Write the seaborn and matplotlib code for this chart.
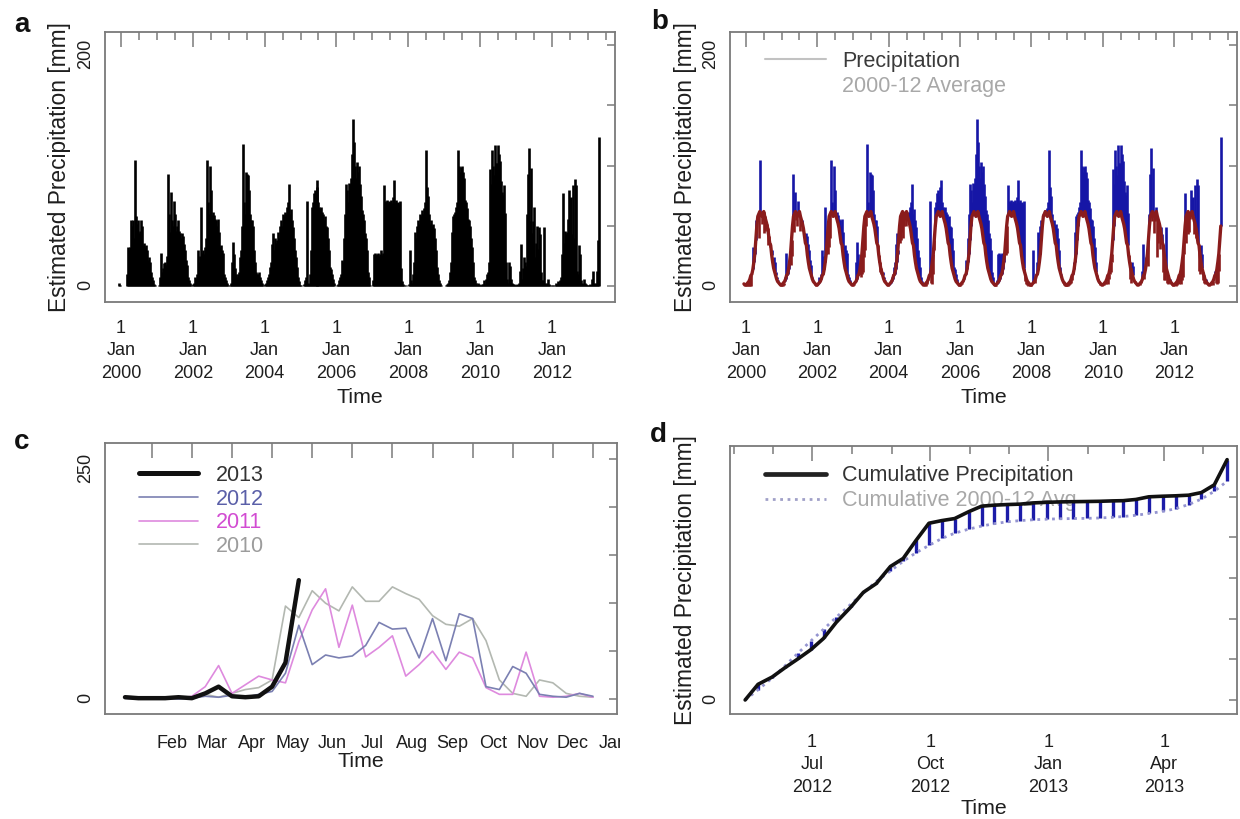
import numpy as np
import pandas as pd
import matplotlib.pyplot as plt
import seaborn as sns
from matplotlib.lines import Line2D
from matplotlib.transforms import Bbox, TransformedBbox

# dekadal precipitation estimates (mm), 36 dekads per year, read off panels a and c
p2000 = [3, 1, 0, 0, 0, 0, 0, 0, 10, 33, 30, 33, 55, 50, 55, 40, 105, 58, 52, 55, 44, 46, 55, 50, 34, 36, 33, 34, 30, 22, 24, 20, 12, 8, 5, 2]
p2001 = [1, 0, 0, 0, 1, 8, 28, 12, 15, 19, 20, 18, 25, 93, 60, 45, 78, 55, 50, 71, 60, 46, 50, 55, 46, 44, 40, 44, 42, 35, 30, 22, 18, 8, 5, 3]
p2002 = [1, 0, 2, 3, 8, 6, 10, 30, 20, 25, 66, 28, 30, 27, 33, 40, 105, 70, 60, 100, 80, 59, 62, 59, 56, 55, 50, 56, 45, 33, 34, 30, 28, 10, 8, 5]
p2003 = [3, 1, 0, 1, 3, 20, 37, 27, 15, 10, 8, 10, 12, 24, 30, 50, 118, 70, 60, 95, 93, 92, 80, 60, 55, 55, 50, 30, 20, 12, 10, 10, 12, 8, 5, 3]
p2004 = [1, 0, 2, 3, 5, 8, 10, 16, 20, 35, 44, 30, 40, 36, 38, 45, 40, 50, 55, 50, 60, 58, 62, 60, 66, 70, 85, 60, 64, 55, 49, 40, 30, 24, 16, 8]
p2005 = [4, 1, 1, 0, 0, 2, 5, 8, 71, 3, 2, 10, 30, 66, 70, 77, 80, 75, 82, 88, 70, 66, 64, 66, 62, 60, 55, 58, 50, 49, 40, 30, 16, 14, 10, 6]
p2006 = [3, 0, 0, 1, 2, 5, 8, 10, 22, 20, 40, 60, 85, 80, 70, 86, 85, 90, 110, 139, 120, 100, 90, 103, 95, 100, 85, 75, 63, 60, 55, 44, 40, 30, 12, 8]
p2007 = [1, 0, 0, 5, 27, 28, 26, 27, 28, 25, 27, 30, 26, 28, 84, 71, 70, 72, 69, 71, 70, 72, 69, 74, 88, 70, 72, 69, 70, 68, 71, 15, 4, 2, 1, 0]
p2008 = [1, 0, 0, 2, 30, 5, 3, 10, 20, 45, 40, 50, 55, 52, 60, 58, 63, 60, 65, 70, 113, 82, 75, 60, 52, 55, 50, 52, 48, 40, 30, 16, 10, 5, 3, 1]
p2009 = [0, 0, 0, 0, 1, 2, 3, 5, 12, 20, 45, 58, 60, 62, 66, 70, 113, 100, 95, 99, 100, 95, 90, 72, 70, 65, 56, 55, 50, 40, 33, 20, 8, 5, 3, 1]
p2010 = [3, 2, 1, 1, 2, 2, 5, 2, 6, 10, 12, 20, 97, 85, 113, 100, 92, 117, 102, 102, 117, 110, 104, 87, 78, 76, 84, 61, 20, 6, 3, 20, 17, 6, 3, 2]
p2011 = [2, 1, 1, 2, 1, 3, 13, 35, 6, 15, 24, 20, 17, 60, 93, 115, 54, 98, 44, 54, 66, 24, 36, 50, 31, 49, 43, 12, 5, 5, 49, 3, 2, 3, 6, 2]
p2012 = [1, 0, 1, 1, 0, 1, 3, 2, 4, 2, 5, 8, 27, 77, 36, 46, 43, 45, 56, 80, 73, 74, 43, 84, 40, 89, 84, 13, 10, 34, 27, 5, 3, 2, 6, 3]
p2013 = [2, 1, 1, 1, 2, 1, 6, 13, 3, 2, 3, 13, 38, 124]

# 2000-12 dekadal average (mm)
avg_2000_12 = [2, 1, 1, 2, 3, 4, 6, 9, 10, 14, 20, 27, 38, 50, 58, 60, 62, 60, 58, 60, 62, 58, 55, 52, 48, 42, 36, 34, 26, 20, 15, 12, 9, 6, 4, 3]

years = list(range(2000, 2014))
series = [p2000, p2001, p2002, p2003, p2004, p2005, p2006, p2007, p2008, p2009, p2010, p2011, p2012, p2013]
month_labels = ['Feb', 'Mar', 'Apr', 'May', 'Jun', 'Jul', 'Aug', 'Sep', 'Oct', 'Nov', 'Dec', 'Jan']
season_colors = {2013: '#111111', 2012: '#7b80b2', 2011: '#de8ade', 2010: '#b3b8b1'}
season_text = {2013: '#333333', 2012: '#5a5fa8', 2011: '#d24cd2', 2010: '#9c9c9c'}

# long table of the whole record
rows = []
for y, vals in zip(years, series):
    for d, v in enumerate(vals):
        rows.append((y, d, v))
df = pd.DataFrame(rows, columns=['year', 'dekad', 'mm'])
df['t'] = df['year'] + (df['dekad'] - 2) / 36
df['avg'] = np.array(avg_2000_12)[df['dekad']]

sns.set_theme(style='white')
plt.rcParams['font.family'] = ['Liberation Sans', 'DejaVu Sans']

fig = plt.figure(figsize=(12.4, 8.19), dpi=100)
ax_a = fig.add_axes([0.0847, 0.6313, 0.4113, 0.3297])
ax_b = fig.add_axes([0.5887, 0.6313, 0.4089, 0.3297])
ax_c = fig.add_axes([0.0847, 0.1282, 0.4129, 0.3309])
ax_d = fig.add_axes([0.5887, 0.1282, 0.4089, 0.3272])

EDGE = '#7a7a7a'
INK = '#1e1e1e'


def style_axes(ax, xpad):
    for sp in ax.spines.values():
        sp.set_color(EDGE)
        sp.set_linewidth(1.3)
    ax.tick_params(which='both', direction='in', top=True, right=True, color=EDGE,
                   width=1.1, labelcolor=INK, labelsize=13)
    ax.tick_params(axis='y', length=6, pad=8, labelrotation=90)
    ax.tick_params(axis='x', which='major', length=11, pad=xpad)
    ax.tick_params(axis='x', which='minor', length=6)
    ax.grid(False)


def year_axis(ax):
    ax.set_xlim(1999.554, 2013.76)
    ax.set_ylim(-13, 211)
    majors = list(range(2000, 2013, 2))
    ax.set_xticks(majors, labels=[f'1\nJan\n{y}' for y in majors])
    minors = [m / 2 for m in range(4001, 4028) if m % 4 != 0]
    ax.set_xticks(minors, minor=True)
    plt.setp(ax.get_xticklabels(), linespacing=1.42)
    ax.set_yticks([0, 50, 100, 150, 200], labels=['0', '', '', '', '200'])
    style_axes(ax, 13)
    ax.set_xlabel('Time', fontsize=15.4, color=INK)
    ax.xaxis.set_label_coords(0.5, -0.318)
    ax.set_ylabel('Estimated Precipitation [mm]', fontsize=16.4, color=INK)
    ax.yaxis.set_label_coords(-0.066, 0.5)


# a: precipitation as vertical bars
ax_a.vlines(df['t'], 0, df['mm'], color='black', lw=1.9)
year_axis(ax_a)

# b: anomaly against the 2000-12 average
above = df['mm'] >= df['avg']
ax_b.vlines(df['t'][above], df['avg'][above], df['mm'][above], color='#1616a6', lw=1.9)
ax_b.vlines(df['t'][~above], df['mm'][~above], df['avg'][~above], color='#8a1c1c', lw=1.9)
sns.lineplot(x=df['t'], y=df['avg'], color='#8a1c1c', lw=2.4, ax=ax_b)
year_axis(ax_b)
leg_b = ax_b.legend([Line2D([], [], color='#c2c2c2', lw=1.5), Line2D([], [], color='none')],
                    ['Precipitation', '2000-12 Average'], loc='upper left',
                    bbox_to_anchor=(0.069, 0.93), frameon=False, fontsize=15.5,
                    handlelength=2.85, handletextpad=0.75, labelspacing=0.2,
                    borderpad=0, borderaxespad=0)
for txt, col in zip(leg_b.get_texts(), ['#3a3a3a', '#a8a8a8']):
    txt.set_color(col)

# c: seasonal curves by year
for y in [2010, 2011, 2012, 2013]:
    vals = series[years.index(y)]
    pos = [(d + 1) / 3 for d in range(len(vals))]
    sns.lineplot(x=pos, y=vals, color=season_colors[y], lw=3.2 if y == 2013 else 1.2, ax=ax_c)
ax_c.set_xlim(-0.165, 12.6)
ax_c.set_ylim(-15.5, 267)
ax_c.set_xticks(range(1, 13), labels=[''] * 12)
ax_c.set_yticks([0, 50, 100, 150, 200, 250], labels=['0', '', '', '', '', '250'])
style_axes(ax_c, 12)
ax_c.set_xlabel('Time', fontsize=15.4, color=INK)
ax_c.xaxis.set_label_coords(0.5, -0.14)
clip = TransformedBbox(Bbox([[0, 0], [0.5, 1]]), fig.transFigure)
for i, lab in enumerate(month_labels):
    t = ax_c.text(i + 1.5, -0.108, lab, transform=ax_c.get_xaxis_transform(), ha='center',
                  va='center', fontsize=13, color=INK, clip_on=True)
    t.set_clip_box(clip)
handles_c = [Line2D([], [], color=season_colors[y], lw=3.6 if y == 2013 else 1.2)
             for y in [2013, 2012, 2011, 2010]]
leg_c = ax_c.legend(handles_c, ['2013', '2012', '2011', '2010'], loc='upper left',
                    bbox_to_anchor=(0.066, 0.919), frameon=False, fontsize=15.5,
                    handlelength=2.75, handletextpad=0.84, labelspacing=0.12,
                    borderpad=0, borderaxespad=0)
for txt, y in zip(leg_c.get_texts(), [2013, 2012, 2011, 2010]):
    txt.set_color(season_text[y])


# d: cumulative since May 2012
def dekad_end(year, d):
    m = d // 3 + 1
    k = d % 3
    day = 10 * (k + 1) if k < 2 else pd.Timestamp(year, m, 1).days_in_month
    return (pd.Timestamp(year, m, day) - pd.Timestamp(2012, 1, 1)).days


def day_of(year, month):
    return (pd.Timestamp(year, month, 1) - pd.Timestamp(2012, 1, 1)).days


cum_days = [dekad_end(2012, 12)] + [dekad_end(2012, d) for d in range(13, 36)] + \
           [dekad_end(2013, d) for d in range(14)]
cum_obs = np.concatenate([[0], np.cumsum(p2012[13:] + p2013[:14])])
cum_avg = np.concatenate([[0], np.cumsum(avg_2000_12[13:] + avg_2000_12[:14])])
cum = pd.DataFrame({'day': cum_days, 'obs': cum_obs, 'avg': cum_avg})

ax_d.vlines(cum['day'], cum['avg'], cum['obs'], color='#1c1ca8', lw=2.4)
sns.lineplot(data=cum, x='day', y='avg', color='#9494d0', lw=2, ls=':', ax=ax_d)
sns.lineplot(data=cum, x='day', y='obs', color='#111111', lw=2.6, ax=ax_d)
ax_d.set_xlim(118.2, 512.7)
ax_d.set_ylim(-69, 1250)
quarters = [(2012, 7, 'Jul'), (2012, 10, 'Oct'), (2013, 1, 'Jan'), (2013, 4, 'Apr')]
ax_d.set_xticks([day_of(y, m) for y, m, _ in quarters],
                labels=[f'1\n{n}\n{y}' for y, m, n in quarters])
months_minor = [(2012, 5), (2012, 6), (2012, 8), (2012, 9), (2012, 11), (2012, 12),
                (2013, 2), (2013, 3), (2013, 5)]
ax_d.set_xticks([day_of(y, m) for y, m in months_minor], minor=True)
plt.setp(ax_d.get_xticklabels(), linespacing=1.4)
ax_d.set_yticks([0, 200, 400, 600, 800, 1000], labels=['0', '', '', '', '', ''])
style_axes(ax_d, 14.5)
ax_d.set_xlabel('Time', fontsize=15.4, color=INK)
ax_d.xaxis.set_label_coords(0.5, -0.318)
ax_d.set_ylabel('Estimated Precipitation [mm]', fontsize=16.4, color=INK)
ax_d.yaxis.set_label_coords(-0.066, 0.5)
leg_d = ax_d.legend([Line2D([], [], color='#222222', lw=3.4),
                     Line2D([], [], color='#a0a0c8', lw=2, ls=':')],
                    ['Cumulative Precipitation', 'Cumulative 2000-12 Avg'], loc='upper left',
                    bbox_to_anchor=(0.069, 0.929), frameon=False, fontsize=15.5,
                    handlelength=2.85, handletextpad=0.75, labelspacing=0.2,
                    borderpad=0, borderaxespad=0)
leg_d.set_zorder(1)
for txt, col in zip(leg_d.get_texts(), ['#333333', '#a8a8a8']):
    txt.set_color(col)

for letter, x, y in [('a', 0.0177, 0.969), ('b', 0.532, 0.973), ('c', 0.0177, 0.460), ('d', 0.531, 0.469)]:
    fig.text(x, y, letter, fontsize=20, fontweight='bold', ha='center', va='center', color='#111111')

fig.savefig('out.png', dpi=100)
